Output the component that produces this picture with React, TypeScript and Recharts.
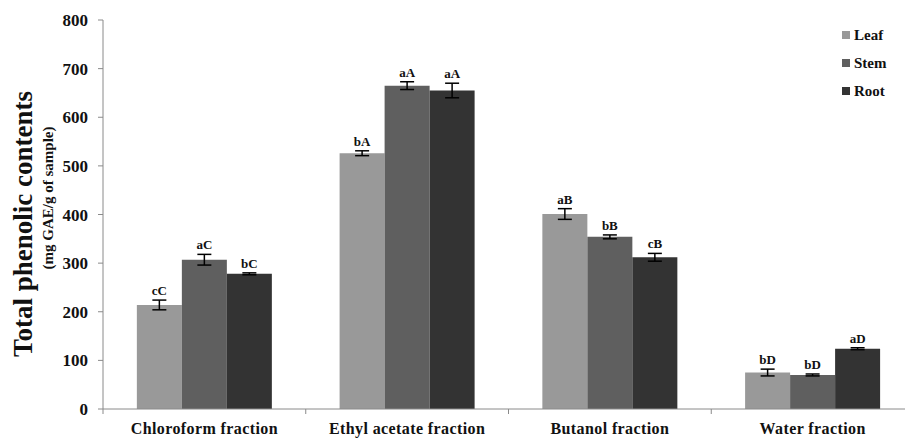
import { BarChart, Bar, XAxis, YAxis, Legend, ErrorBar, LabelList } from 'recharts'

const categories = ['Chloroform fraction', 'Ethyl acetate fraction', 'Butanol fraction', 'Water fraction']
const leaf = [214, 526, 401, 75]
const stem = [307, 665, 354, 70]
const root = [278, 655, 312, 124]
const leafErr = [10, 5, 11, 7]
const stemErr = [11, 8, 4, 2]
const rootErr = [2, 15, 8, 2]
const leafTags = ['cC', 'bA', 'aB', 'bD']
const stemTags = ['aC', 'aA', 'bB', 'bD']
const rootTags = ['bC', 'aA', 'cB', 'aD']
const yTicks = [0, 100, 200, 300, 400, 500, 600, 700, 800]

const data = categories.map((name, i) => ({
  name,
  leaf: leaf[i],
  stem: stem[i],
  root: root[i],
  leafErr: leafErr[i],
  stemErr: stemErr[i],
  rootErr: rootErr[i],
}))

const FONT = 'Liberation Serif, DejaVu Serif, serif'
const AXIS = '#8a8a8a'
const CHART_W = 914
const CHART_H = 439
const Y_W = 103
const TOP = 20
const X_H = 30
const PLOT_H = CHART_H - TOP - X_H
const BAND = (CHART_W - Y_W) / categories.length
const PX_PER_UNIT = PLOT_H / 800

const series = [
  { key: 'leaf', name: 'Leaf', color: '#999999', err: leafErr, tags: leafTags },
  { key: 'stem', name: 'Stem', color: '#5f5f5f', err: stemErr, tags: stemTags },
  { key: 'root', name: 'Root', color: '#333333', err: rootErr, tags: rootTags },
]

function makeTag(tags: string[], errs: number[]) {
  return (props: any) => {
    const { x, y, width, index } = props
    const cy = Number(y) - errs[index] * PX_PER_UNIT - 5
    return (
      <text
        x={Number(x) + Number(width) / 2}
        y={cy}
        textAnchor="middle"
        style={{ fontFamily: FONT, fontWeight: 'bold', fontSize: 13 }}
        fill="#111"
      >
        {tags[index]}
      </text>
    )
  }
}

function CategoryTick(props: any) {
  const { x, y, payload } = props
  const left = x - BAND / 2
  return (
    <g>
      <line x1={left} y1={y - 8} x2={left} y2={y - 3} stroke={AXIS} />
      <text
        x={x}
        y={y + 17}
        textAnchor="middle"
        style={{ fontFamily: FONT, fontWeight: 'bold', fontSize: 16, letterSpacing: 0.4 }}
        fill="#111"
      >
        {payload.value}
      </text>
    </g>
  )
}

function LegendBox() {
  return (
    <div style={{ fontFamily: FONT, fontWeight: 'bold', fontSize: 15, color: '#111' }}>
      {series.map((s) => (
        <div key={s.key} style={{ display: 'flex', alignItems: 'center', height: 28 }}>
          <span style={{ width: 8, height: 8, background: s.color, marginRight: 4, display: 'inline-block' }} />
          {s.name}
        </div>
      ))}
    </div>
  )
}

function YTitle() {
  return (
    <g fill="#111">
      <text
        x={23}
        y={224}
        transform="rotate(-90 23 224)"
        textAnchor="middle"
        dominantBaseline="central"
        style={{ fontFamily: FONT, fontWeight: 'bold', fontSize: 27 }}
      >
        Total phenolic contents
      </text>
      <text
        x={48}
        y={198}
        transform="rotate(-90 48 198)"
        textAnchor="middle"
        dominantBaseline="central"
        style={{ fontFamily: FONT, fontWeight: 'bold', fontSize: 15 }}
      >
        (mg GAE/g of sample)
      </text>
    </g>
  )
}

export default function App() {
  return (
    <div style={{ width: 905, height: 439, overflow: 'hidden', background: '#fff' }}>
      <style>{'body{margin:0}'}</style>
      <BarChart
        width={CHART_W}
        height={CHART_H}
        data={data}
        margin={{ top: TOP, right: 0, bottom: 0, left: 0 }}
        barCategoryGap="16.7%"
        barGap={0}
      >
        <XAxis
          dataKey="name"
          height={X_H}
          stroke={AXIS}
          tickLine={false}
          tick={<CategoryTick />}
          interval={0}
        />
        <YAxis
          width={Y_W}
          domain={[0, 800]}
          ticks={yTicks}
          stroke={AXIS}
          tickSize={5}
          tickMargin={10}
          tick={{ style: { fontFamily: FONT, fontWeight: 'bold', fontSize: 17 }, fill: '#111' }}
          label={{ content: () => <YTitle /> }}
        />
        <Legend
          layout="vertical"
          verticalAlign="middle"
          align="center"
          content={() => <LegendBox />}
          wrapperStyle={{ left: 842, top: 21, width: 70, height: 84 }}
        />
        {series.map((s) => (
          <Bar key={s.key} dataKey={s.key} name={s.name} fill={s.color} isAnimationActive={false}>
            <ErrorBar dataKey={`${s.key}Err`} width={7} stroke="#000" strokeWidth={1.5} />
            <LabelList dataKey={s.key} content={makeTag(s.tags, s.err)} />
          </Bar>
        ))}
      </BarChart>
    </div>
  )
}
